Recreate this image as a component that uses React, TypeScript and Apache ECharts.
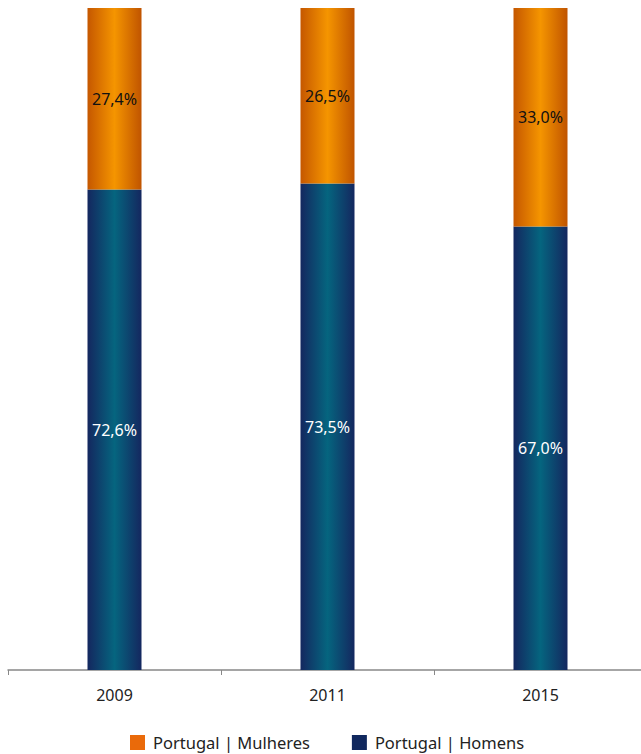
import React, { useEffect, useRef } from "react";
import * as echarts from "echarts";

const categories = ["2009", "2011", "2015"];
const homens = [72.6, 73.5, 67.0];
const mulheres = [27.4, 26.5, 33.0];
const seriesNames = ["Portugal | Mulheres", "Portugal | Homens"];
const legendColors = ["#ea6a0a", "#10285e"];

const fmt = (v: number) => v.toFixed(1).replace(".", ",") + "%";

export default function App() {
  const ref = useRef<HTMLDivElement>(null);
  useEffect(() => {
    if (!ref.current) return;
    const chart = echarts.init(ref.current, null, { renderer: "svg" });
    const blueGrad = new echarts.graphic.LinearGradient(0, 0, 1, 0, [
      { offset: 0, color: "#14275f" },
      { offset: 0.5, color: "#05657f" },
      { offset: 1, color: "#14275f" },
    ]);
    const orangeGrad = new echarts.graphic.LinearGradient(0, 0, 1, 0, [
      { offset: 0, color: "#c55700" },
      { offset: 0.5, color: "#f59500" },
      { offset: 1, color: "#c05400" },
    ]);
    const font = "'Noto Sans', 'Open Sans', sans-serif";
    chart.setOption({
      animation: false,
      textStyle: { fontFamily: font },
      grid: { left: 8, width: 639, top: 8, bottom: 84, outerBoundsMode: "none", containLabel: false },
      legend: {
        data: seriesNames.map((n, i) => ({ name: n, itemStyle: { color: legendColors[i] } })),
        bottom: 3,
        left: 130,
        padding: 0,
        itemWidth: 15,
        itemHeight: 15,
        itemGap: 42,
        icon: "rect",
        textStyle: { fontSize: 16.5, color: "#222", fontFamily: font, padding: [0, 0, 0, 3] },
      },
      xAxis: {
        type: "category",
        data: categories,
        axisLine: { lineStyle: { color: "#888", width: 1.5 } },
        axisTick: { show: true, length: 5, lineStyle: { color: "#888" } },
        axisLabel: { fontSize: 16, color: "#222", margin: 17, fontFamily: font },
      },
      yAxis: {
        type: "value",
        min: 0,
        max: 100,
        show: false,
        splitLine: { show: false },
      },
      series: [
        {
          name: "Portugal | Homens",
          type: "bar",
          stack: "total",
          barWidth: 54,
          data: homens,
          itemStyle: { color: blueGrad },
          label: {
            show: true,
            position: "inside",
            color: "#fff",
            fontSize: 16,
            fontFamily: font,
            formatter: (p: any) => fmt(p.value),
          },
        },
        {
          name: "Portugal | Mulheres",
          type: "bar",
          stack: "total",
          barWidth: 54,
          data: mulheres,
          itemStyle: { color: orangeGrad },
          label: {
            show: true,
            position: "inside",
            color: "#111",
            fontSize: 16,
            fontFamily: font,
            formatter: (p: any) => fmt(p.value),
          },
        },
      ],
    });
    return () => chart.dispose();
  }, []);
  return <div ref={ref} style={{ width: 641, height: 754, position: "absolute", left: 0, top: 0 }} />;
}
